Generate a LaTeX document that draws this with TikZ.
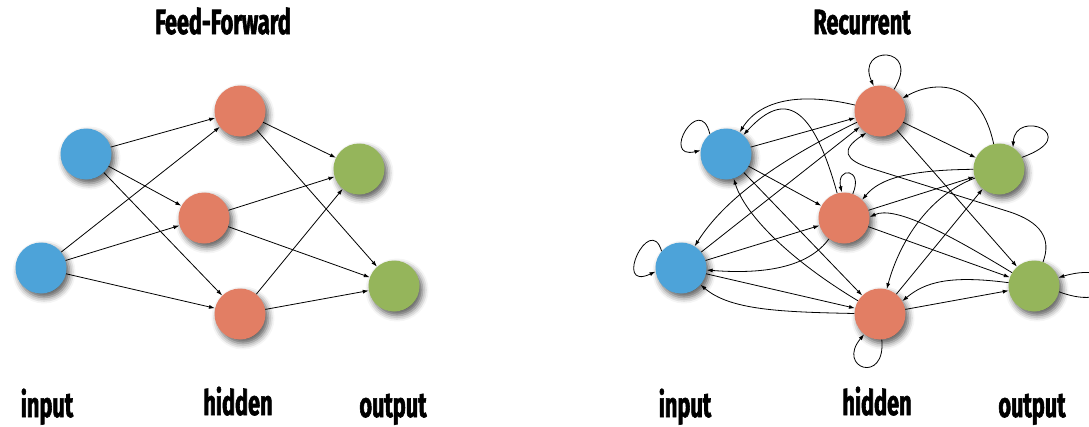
\documentclass[tikz,border=0pt]{standalone}
\usepackage{fontspec}
\newfontfamily\lblfont{Fira Sans}[UprightFont=* Bold, BoldFont=* Bold, FakeStretch=0.62, FakeBold=1.6]
\usetikzlibrary{arrows.meta,shadows.blur}
\definecolor{nblue}{HTML}{4DA3D9}
\definecolor{nred}{HTML}{E27E64}
\definecolor{ngreen}{HTML}{95B55B}
\begin{document}
\begin{tikzpicture}[x=1pt,y=-1pt,
  neuron/.style={circle, minimum size=51pt, inner sep=0pt, draw=none,
    blur shadow={shadow xshift=3pt, shadow yshift=-4pt, shadow blur radius=6pt, shadow opacity=65}},
  inn/.style={neuron, fill=nblue},
  hid/.style={neuron, fill=nred},
  outn/.style={neuron, fill=ngreen},
  conn/.style={line width=0.8pt, -{Latex[length=6pt,width=4pt]}},
  lbl/.style={font=\lblfont\fontsize{35}{40}\selectfont, anchor=base, inner sep=0pt}]
\useasboundingbox (0,0) rectangle (1089,426);
\clip (0,0) rectangle (1089,426);

% ---------- Feed-forward ----------
\node[inn] (fi1) at (86,154) {};
\node[inn] (fi2) at (41,268) {};
\node[hid] (fh1) at (240,111) {};
\node[hid] (fh2) at (204,218) {};
\node[hid] (fh3) at (240,314) {};
\node[outn] (fo1) at (359,169) {};
\node[outn] (fo2) at (394,286) {};

\foreach \a in {fi1,fi2}{\foreach \b in {fh1,fh2,fh3}{\draw[conn] (\a) -- (\b);}}
\foreach \a in {fh1,fh2,fh3}{\foreach \b in {fo1,fo2}{\draw[conn] (\a) -- (\b);}}

\node[lbl] (t1) at (223,34) {Feed-Forward};
\node[lbl] (l1) at (47,417) {input};
\node[lbl] (l2) at (238,415) {hidden};
\node[lbl] (l3) at (393,417) {output};

% ---------- Recurrent ----------
\node[inn] (ri1) at (726,154) {};
\node[inn] (ri2) at (681,268) {};
\node[hid] (rh1) at (880,111) {};
\node[hid] (rh2) at (844,218) {};
\node[hid] (rh3) at (880,314) {};
\node[outn] (ro1) at (999,169) {};
\node[outn] (ro2) at (1034,286) {};

\foreach \a in {ri1,ri2}{\foreach \b in {rh1,rh2,rh3}{\draw[conn] (\a) -- (\b);}}
\foreach \a in {rh1,rh2,rh3}{\foreach \b in {ro1,ro2}{\draw[conn] (\a) -- (\b);}}

% backward connections
\draw[conn] (rh1) .. controls (800,92) and (760,100) .. (ri1);
\draw[conn] (rh2) .. controls (810,95) and (780,95) .. (ri1);
\draw[conn] (rh3) .. controls (790,260) and (745,215) .. (ri1);
\draw[conn] (rh1) .. controls (800,150) and (730,190) .. (ri2);
\draw[conn] (rh2) .. controls (810,265) and (770,275) .. (ri2);
\draw[conn] (rh3) .. controls (780,312) and (730,310) .. (ri2);
\draw[conn] (ro1) .. controls (980,80) and (935,80) .. (rh1);
\draw[conn] (ro2) .. controls (1052,238) and (1040,222) .. (1010,212) -- (870,168) .. controls (845,160) and (840,150) .. (rh1.238);
\draw[conn] (ro1) .. controls (910,170) and (880,178) .. (rh2.45);
\draw[conn] (ro2) .. controls (950,235) and (895,205) .. (rh2.2);
\draw[conn] (ro1) .. controls (930,195) and (900,240) .. (rh3);
\draw[conn] (ro2) .. controls (950,275) and (925,282) .. (rh3.30);

% self loops
\draw[conn] (ri1.129) .. controls (700,92) and (660,160) .. (ri1.172);
\draw[conn] (ri2.139) .. controls (650,212) and (612,292) .. (ri2.188);
\draw[conn] (rh1.57) .. controls (922,45) and (855,45) .. (rh1.104);
\draw[conn] (rh2.70) .. controls (864,168) and (836,166) .. (rh2.95);
\draw[conn] (rh3.274) .. controls (886,385) and (836,368) .. (rh3.232);
\draw[conn] (ro1.27) .. controls (1085,135) and (1015,108) .. (ro1.57);
\draw[conn] (ro2.347) .. controls (1120,315) and (1125,258) .. (ro2.19);

\node[lbl] (t2) at (862,34) {Recurrent};
\node[lbl] (l4) at (685,417) {input};
\node[lbl] (l5) at (877,415) {hidden};
\node[lbl] (l6) at (1032,417) {output};
\end{tikzpicture}
\end{document}
